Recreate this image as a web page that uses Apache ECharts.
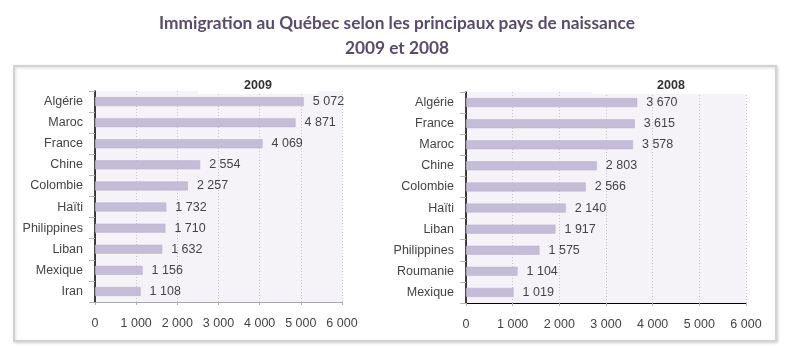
<!DOCTYPE html>
<html><head><meta charset="utf-8">
<script src="https://cdn.jsdelivr.net/npm/echarts@6/dist/echarts.min.js"></script>
<style>html,body{margin:0;padding:0;background:#fff}#c{width:794px;height:356px}</style>
</head><body><div id="c"></div>
<script>
const mainTitle = "Immigration au Québec selon les principaux pays de naissance";
const subTitle = "2009 et 2008";
const cats2009 = ["Algérie","Maroc","France","Chine","Colombie","Haïti","Philippines","Liban","Mexique","Iran"];
const vals2009 = [5072,4871,4069,2554,2257,1732,1710,1632,1156,1108];
const cats2008 = ["Algérie","France","Maroc","Chine","Colombie","Haïti","Liban","Philippines","Roumanie","Mexique"];
const vals2008 = [3670,3615,3578,2803,2566,2140,1917,1575,1104,1019];
const xTicks = [0,1000,2000,3000,4000,5000,6000];

const fmt = v => String(v).replace(/\B(?=(\d{3})+(?!\d))/g, "\u00a0");
const txt = '#444448';
const font = 'Liberation Sans';
const fs = 12.5;

function xAxis(gi, lineColor){
  return {gridIndex: gi, type:'value', min: xTicks[0], max: xTicks[xTicks.length-1], interval: 1000,
    axisLine:{show:true, lineStyle:{color:lineColor, width:1}},
    axisTick:{show:true, length:3, lineStyle:{color:'#b0b0b0'}},
    axisLabel:{color:txt, fontFamily:font, fontSize:fs, margin:15, formatter: fmt},
    splitLine:{show:true, lineStyle:{color:'#c4c4cc', type:[1,2], width:1}}
  };
}
function yAxis(gi, cats){
  return {gridIndex: gi, type:'category', data: cats, inverse:true,
    axisLine:{show:true, lineStyle:{color:'#000', width:1.5}},
    axisTick:{show:true, length:6, lineStyle:{color:'#b4b4b8'}},
    axisLabel:{color:txt, fontFamily:font, fontSize:fs, margin:12},
    splitLine:{show:false}
  };
}
function bar(gi, vals){
  return {type:'bar', xAxisIndex: gi, yAxisIndex: gi, data: vals, barWidth: 9,
    itemStyle:{color:'#c5bcd7', borderColor:'#b9aecd', borderWidth:0.5},
    label:{show:true, position:'right', distance:9, color:txt, fontFamily:font, fontSize:fs,
      formatter: p => fmt(p.value)},
    silent:true, animation:false
  };
}

const chart = echarts.init(document.getElementById('c'), null, {renderer:'canvas'});
chart.setOption({
  animation:false,
  backgroundColor:'#fff',
  graphic:[
    {type:'rect', z:-10, shape:{x:14, y:66, width:762, height:275},
      style:{fill:'#fff', stroke:'#d2d2d6', lineWidth:2, shadowBlur:3, shadowColor:'rgba(0,0,0,0.15)', shadowOffsetX:1, shadowOffsetY:1}}
  ],
  title:[
    {text: mainTitle, left:'center', top:10, textStyle:{fontFamily:'Lato', fontWeight:'bold', fontSize:17.3, color:'#584b6c'}},
    {text: subTitle, left:'center', top:35, textStyle:{fontFamily:'Lato', fontWeight:'bold', fontSize:17.3, color:'#584b6c'}},
    {text:'2009', left:212, textAlign:'center', top:78, backgroundColor:'#fff', padding:[1,46,2,46],
      textStyle:{fontFamily:font, fontWeight:'bold', fontSize:12.5, color:'#333'}},
    {text:'2008', left:606, textAlign:'center', top:78, backgroundColor:'#fff', padding:[1,65,2,65],
      textStyle:{fontFamily:font, fontWeight:'bold', fontSize:12.5, color:'#333'}}
  ],
  grid:[
    {left:95, right:452, top:91, bottom:54, show:true, backgroundColor:'#f5f3f8', borderWidth:0, z:-5},
    {left:466, right:48, top:92, bottom:53, show:true, backgroundColor:'#f5f3f8', borderWidth:0, z:-5}
  ],
  xAxis:[xAxis(0,'#a8a8b0'), xAxis(1,'#000')],
  yAxis:[yAxis(0,cats2009), yAxis(1,cats2008)],
  series:[bar(0,vals2009), bar(1,vals2008)]
});
</script></body></html>
